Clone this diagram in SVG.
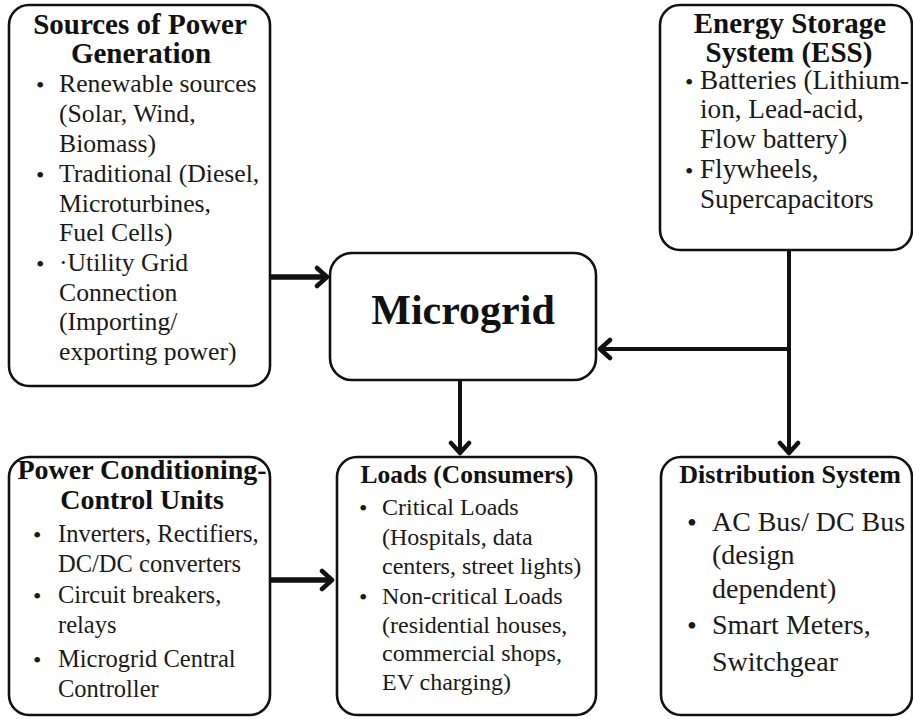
<svg xmlns="http://www.w3.org/2000/svg" width="913" height="719" viewBox="0 0 913 719">
  <style>
    .box { fill: #ffffff; stroke: #111111; stroke-width: 2.6; }
    .title { font-family: "Liberation Serif", "Times New Roman", serif; font-weight: bold; fill: #111111; text-anchor: middle; }
    .body { font-family: "Liberation Serif", "Times New Roman", serif; fill: #1a1a1a; }
    .dot { font-family: "Liberation Serif", "Times New Roman", serif; fill: #1a1a1a; font-size: 24px; }
    .dot.big { font-size: 28px; }
    .wire { fill: none; stroke: #111111; stroke-width: 4; }
    .wire.heavy { stroke-width: 5.5; }
  </style>
  <defs>
    <marker id="chevron" viewBox="-14 -12 18 24" refX="0" refY="0" markerWidth="18" markerHeight="24" markerUnits="userSpaceOnUse" orient="auto">
      <path d="M -10 -9 L 0 0 L -10 9" fill="none" stroke="#111111" stroke-width="4.5" stroke-linecap="round" stroke-linejoin="round"/>
    </marker>
  </defs>
  <rect width="913" height="719" fill="#ffffff"/>

  <!-- connectors -->
  <g id="connectors">
    <path class="wire heavy" d="M 271 277 L 327 277" marker-end="url(#chevron)"/>
    <path class="wire" d="M 789 250 L 789 453" marker-end="url(#chevron)"/>
    <path class="wire" d="M 789 349 L 600 349" marker-end="url(#chevron)"/>
    <path class="wire" d="M 460 380 L 460 453" marker-end="url(#chevron)"/>
    <path class="wire heavy" d="M 270 580 L 332 580" marker-end="url(#chevron)"/>
  </g>

  <!-- generation sources -->
  <g id="sources">
    <rect class="box" x="9" y="5" width="261" height="381" rx="20"/>
    <text class="title" font-size="29" x="140" y="34">Sources of Power</text>
    <text class="title" font-size="29" x="141" y="63">Generation</text>
    <g class="body" font-size="25.7">
      <text class="dot" x="36" y="93">•</text>
      <text x="59" y="92">Renewable sources</text>
      <text x="59" y="122">(Solar, Wind,</text>
      <text x="59" y="152">Biomass)</text>
      <text class="dot" x="36" y="183">•</text>
      <text x="59" y="182">Traditional (Diesel,</text>
      <text x="59" y="212">Microturbines,</text>
      <text x="59" y="241">Fuel Cells)</text>
      <text class="dot" x="36" y="272">•</text>
      <text x="59" y="271">·Utility Grid</text>
      <text x="59" y="301">Connection</text>
      <text x="59" y="330">(Importing/</text>
      <text x="59" y="360">exporting power)</text>
    </g>
  </g>

  <!-- energy storage -->
  <g id="storage">
    <rect class="box" x="660" y="5" width="252" height="245" rx="20"/>
    <text class="title" font-size="29" x="790" y="33">Energy Storage</text>
    <text class="title" font-size="29" x="789" y="62">System (ESS)</text>
    <g class="body" font-size="27.2">
      <text class="dot" x="685" y="90">•</text>
      <text x="700" y="89">Batteries (Lithium-</text>
      <text x="700" y="118">ion, Lead-acid,</text>
      <text x="700" y="148">Flow battery)</text>
      <text class="dot" x="685" y="179">•</text>
      <text x="700" y="178">Flywheels,</text>
      <text x="700" y="208">Supercapacitors</text>
    </g>
  </g>

  <!-- central microgrid -->
  <g id="microgrid">
    <rect class="box" x="330" y="253" width="266" height="127" rx="22"/>
    <text class="title" font-size="42" x="463" y="324">Microgrid</text>
  </g>

  <!-- power conditioning and control -->
  <g id="conditioning">
    <rect class="box" x="9" y="457" width="261" height="258" rx="20"/>
    <text class="title" font-size="28" x="142" y="479">Power Conditioning-</text>
    <text class="title" font-size="28" x="142" y="509">Control Units</text>
    <g class="body" font-size="24.5">
      <text class="dot" x="33" y="543">•</text>
      <text x="58" y="542">Inverters, Rectifiers,</text>
      <text x="58" y="572">DC/DC converters</text>
      <text class="dot" x="33" y="604">•</text>
      <text x="58" y="603">Circuit breakers,</text>
      <text x="58" y="633">relays</text>
      <text class="dot" x="33" y="668">•</text>
      <text x="58" y="667">Microgrid Central</text>
      <text x="58" y="697">Controller</text>
    </g>
  </g>

  <!-- loads -->
  <g id="loads">
    <rect class="box" x="337" y="457" width="259" height="258" rx="20"/>
    <text class="title" font-size="25.5" x="467" y="483">Loads (Consumers)</text>
    <g class="body" font-size="24">
      <text class="dot" x="359" y="516">•</text>
      <text x="382" y="515">Critical Loads</text>
      <text x="382" y="545">(Hospitals, data</text>
      <text x="382" y="574">centers, street lights)</text>
      <text class="dot" x="359" y="605">•</text>
      <text x="382" y="604">Non-critical Loads</text>
      <text x="382" y="633">(residential houses,</text>
      <text x="382" y="661">commercial shops,</text>
      <text x="382" y="690">EV charging)</text>
    </g>
  </g>

  <!-- distribution -->
  <g id="distribution">
    <rect class="box" x="661" y="457" width="251" height="258" rx="20"/>
    <text class="title" font-size="26" x="790" y="483">Distribution System</text>
    <g class="body" font-size="28">
      <text class="dot big" x="687" y="532">•</text>
      <text x="712" y="531" textLength="193" lengthAdjust="spacingAndGlyphs">AC Bus/ DC Bus</text>
      <text x="712" y="564">(design</text>
      <text x="712" y="598">dependent)</text>
      <text class="dot big" x="687" y="635">•</text>
      <text x="712" y="634">Smart Meters,</text>
      <text x="712" y="671">Switchgear</text>
    </g>
  </g>
</svg>
